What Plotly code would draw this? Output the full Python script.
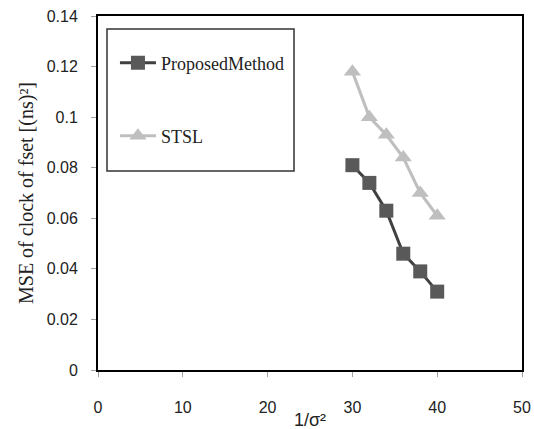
import plotly.graph_objects as go

x_vals = [30, 32, 34, 36, 38, 40]
proposed = [0.081, 0.074, 0.063, 0.046, 0.039, 0.031]
stsl = [0.118, 0.100, 0.093, 0.084, 0.070, 0.061]
x_ticks = [0, 10, 20, 30, 40, 50]
y_ticks = [0, 0.02, 0.04, 0.06, 0.08, 0.1, 0.12, 0.14]

fig = go.Figure()
fig.add_trace(go.Scatter(
    x=x_vals, y=proposed, name="ProposedMethod", mode="lines+markers",
    line=dict(color="#404040", width=3),
    marker=dict(symbol="square", size=14, color="#595959", line=dict(width=0)),
    legend="legend", showlegend=True))
fig.add_trace(go.Scatter(
    x=x_vals, y=stsl, name="STSL", mode="lines+markers",
    line=dict(color="#bfbfbf", width=3),
    marker=dict(symbol="triangle-up", size=15, color="#bfbfbf", line=dict(width=0)),
    legend="legend2", showlegend=True))

axis_common = dict(showline=True, linecolor="black", linewidth=2, mirror=True,
                   ticks="outside", tickcolor="#a0a0a0", ticklen=5, tickwidth=1,
                   showgrid=False, zeroline=False, automargin=False,
                   ticklabeloverflow="allow",
                   tickfont=dict(family="Liberation Sans", size=16, color="#222"))

legend_font = dict(family="Liberation Serif", size=18, color="#222")

fig.update_layout(
    width=534, height=429,
    margin=dict(l=98, r=12, t=16, b=59),
    paper_bgcolor="white", plot_bgcolor="white",
    showlegend=True,
    xaxis=dict(range=[0, 50], tickvals=x_ticks, ticklabelstandoff=17,
               **axis_common),
    yaxis=dict(range=[0, 0.14], tickvals=y_ticks,
               ticktext=[f"{v:g}" for v in y_ticks], ticklabelstandoff=10,
               title=dict(text="MSE of clock of fset [(ns)²]", standoff=8,
                          font=dict(family="Liberation Serif", size=20, color="#222")),
               **axis_common),
    legend=dict(x=0.04, y=0.867, xanchor="left", yanchor="middle", visible=True,
                bgcolor="rgba(0,0,0,0)", itemwidth=36, font=legend_font),
    legend2=dict(x=0.04, y=0.661, xanchor="left", yanchor="middle", visible=True,
                 bgcolor="rgba(0,0,0,0)", itemwidth=36, font=legend_font),
    annotations=[dict(text="1/σ²", xref="paper", yref="paper", x=0.5, y=0,
                      xanchor="center", yanchor="middle", yshift=-50, showarrow=False,
                      font=dict(family="Liberation Sans", size=18, color="#222"))],
    shapes=[dict(type="rect", xref="paper", yref="paper",
                 x0=(107-98)/424, x1=(294-98)/424,
                 y0=(370-171)/354, y1=(370-29)/354,
                 line=dict(color="#333", width=1.5), fillcolor="rgba(0,0,0,0)")],
)

# remove the default page margin so the figure sits at the window's top-left corner
fig.write_html("out.html", config={"displayModeBar": False},
               post_script="document.body.style.margin='0';document.body.style.overflow='hidden';")
